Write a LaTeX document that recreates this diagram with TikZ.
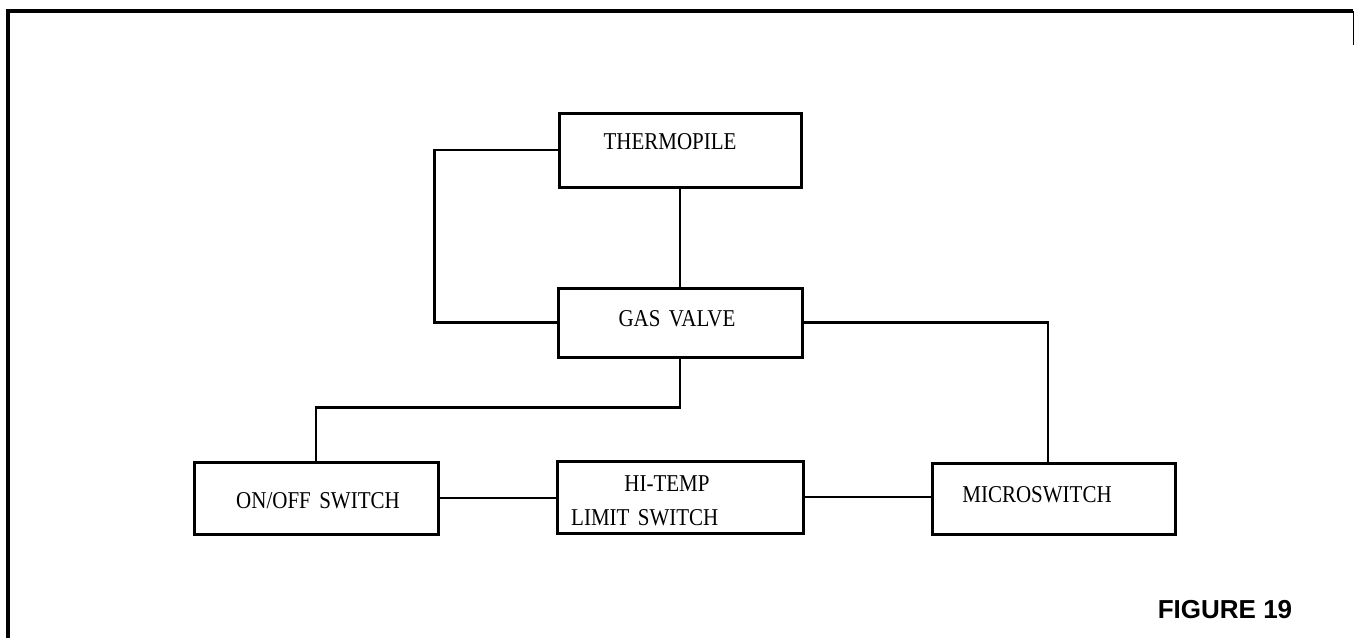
\documentclass[tikz,border=0pt]{standalone}
\usepackage{fontspec}
\setmainfont{Liberation Serif}
\newfontfamily\capfont{Liberation Sans}
\newcommand{\tall}[1]{\scalebox{1}[1.15]{\spaceskip=0.4em\relax #1}}
\begin{document}
\begin{tikzpicture}[x=1pt,y=-1pt,
  blk/.style={draw, line width=3pt, inner sep=0pt},
  lbl/.style={font=\fontsize{21}{25}\selectfont, inner sep=0pt, anchor=base},
  wire/.style={line width=2.6pt},
  frameline/.style={line width=3.4pt}]
\useasboundingbox (0,0) rectangle (1355,638);
% frame
\coordinate (ftl) at (8,11);
\coordinate (ftr) at (1353,11);
\coordinate (fbl) at (8,638);
\coordinate (frs) at (1353,45);
\draw[frameline] (fbl) -- (ftl) -- (ftr);
\draw[line width=1pt] (ftr) -- (frs);
% boxes
\node[blk, minimum width=242pt, minimum height=74pt] (thermo) at (680,150) {};
\node[blk, minimum width=244pt, minimum height=69pt] (gas) at (680,322.5) {};
\node[blk, minimum width=244pt, minimum height=72pt] (onoff) at (316,498) {};
\node[blk, minimum width=246pt, minimum height=72pt] (hitemp) at (680,497) {};
\node[blk, minimum width=243pt, minimum height=71pt] (micro) at (1053.5,498.5) {};
% labels
\node[lbl] (tthermo) at (670,149) {\tall{THERMOPILE}};
\node[lbl] (tgas) at (677,326) {\tall{GAS VALVE}};
\node[lbl] (tonoff) at (318,508) {\tall{ON/OFF SWITCH}};
\node[lbl] (thi1) at (667,491) {\tall{HI-TEMP}};
\node[lbl, anchor=base west] (thi2) at (571,525) {\tall{LIMIT SWITCH}};
\node[lbl] (tmicro) at (1037,502) {\tall{MICROSWITCH}};
\node[font=\capfont\bfseries\fontsize{26}{30}\selectfont, inner sep=0pt, anchor=base] (fig) at (1225,618) {FIGURE 19};
% connectors
\draw[wire] (thermo.west) -- ++(-123,0) |- (gas.west);
\draw[wire] (thermo.south) -- (gas.north);
\draw[wire] (gas.south) -- ++(0,49) -| (onoff.north);
\draw[wire] (gas.east) -| ([xshift=-5.5pt]micro.north);
\draw[wire] (onoff.east) -- (hitemp.west |- onoff.east);
\draw[wire] (hitemp.east) -- (micro.west |- hitemp.east);
\end{tikzpicture}
\end{document}
